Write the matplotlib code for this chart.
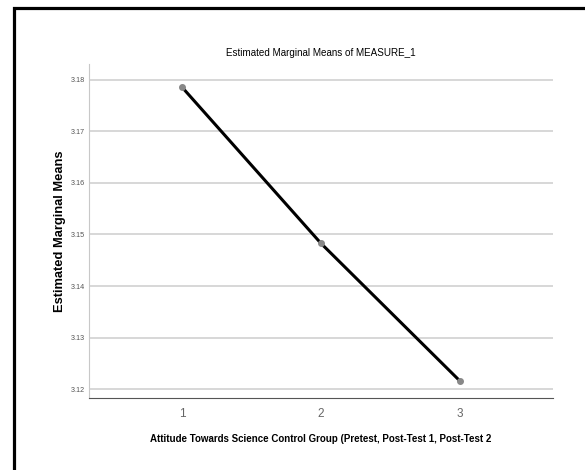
import matplotlib.pyplot as plt
from matplotlib.patches import Rectangle

levels = [1, 2, 3]
means = [3.1786, 3.1483, 3.1216]
yticks = [3.12, 3.13, 3.14, 3.15, 3.16, 3.17, 3.18]

plt.rcParams['font.family'] = ['Liberation Sans', 'DejaVu Sans']

fig = plt.figure(figsize=(5.85, 4.7), dpi=100)
ax = fig.add_axes([0.152, 0.153, 0.793, 0.711])

# frame around the whole thing (cut off at right and bottom)
fig.patches.append(Rectangle((14 / 585, -0.1), 1.2, 1.1 - 8 / 470, transform=fig.transFigure,
                             fill=False, lw=2.3, edgecolor='black', zorder=0))

for t in yticks:
    ax.axhline(t, color='#d4d4d4', lw=1.3, zorder=1)

ax.plot(levels, means, color='black', lw=2.2, zorder=3)
ax.plot(levels, means, 'o', color='#888888', ms=4, zorder=4)

ax.set_xlim(0.33, 3.67)
ax.set_ylim(3.11825, 3.1831)
ax.set_xticks(levels)
ax.set_xticklabels([str(v) for v in levels], fontsize=8.5, color='#666666')
ax.set_yticks(yticks)
ax.set_yticklabels(['%.2f' % v for v in yticks], fontsize=5.2, color='#555555')
ax.tick_params(axis='both', length=0)
ax.tick_params(axis='x', pad=7)
ax.tick_params(axis='y', pad=3)

for s in ['top', 'right']:
    ax.spines[s].set_visible(False)
ax.spines['left'].set_color('#c8c8c8')
ax.spines['bottom'].set_color('#555555')

ax.set_title('Estimated Marginal Means of MEASURE_1', fontsize=7.1, pad=5.5)
ax.set_ylabel('Estimated Marginal Means', fontsize=9.3, fontweight='bold', labelpad=3.5)
ax.set_xlabel('Attitude Towards Science Control Group (Pretest, Post-Test 1, Post-Test 2',
              fontsize=7, fontweight='bold', labelpad=10.5)

fig.savefig('out.png', dpi=100)
